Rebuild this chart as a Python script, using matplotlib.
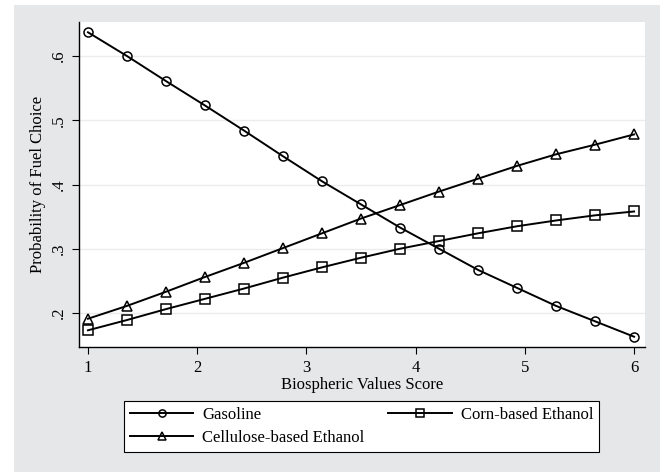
import numpy as np
import matplotlib
matplotlib.use("Agg")
import matplotlib.pyplot as plt
from matplotlib.patches import Rectangle

# --- data ---
score = np.linspace(1, 6, 15)
gasoline = [0.637, 0.600, 0.561, 0.523, 0.484, 0.444, 0.405, 0.369, 0.333,
            0.300, 0.267, 0.239, 0.211, 0.187, 0.163]
corn = [0.173, 0.189, 0.206, 0.222, 0.238, 0.255, 0.271, 0.286, 0.300,
        0.312, 0.324, 0.335, 0.344, 0.352, 0.358]
cellulose = [0.191, 0.211, 0.233, 0.256, 0.278, 0.301, 0.324, 0.347, 0.368,
             0.389, 0.409, 0.429, 0.447, 0.462, 0.478]
x_ticks = [1, 2, 3, 4, 5, 6]
y_ticks = [0.2, 0.3, 0.4, 0.5, 0.6]
y_labels = ['.2', '.3', '.4', '.5', '.6']

plt.rcParams['font.family'] = ['Liberation Serif', 'DejaVu Serif']
plt.rcParams['font.size'] = 12

fig = plt.figure(figsize=(6.62, 4.73), dpi=100)
fig.patch.set_facecolor('white')
# stata-like gray graph region
fig.patches.append(Rectangle((14/662, 1/473), 646/662, 467/473,
                             transform=fig.transFigure, facecolor='#e6e7e9',
                             edgecolor='none', zorder=-10))

ax = fig.add_axes([79/662, 126/473, 566/662, 325/473])
ax.set_facecolor('white')

style = dict(color='black', lw=1.4, markerfacecolor='none',
             markeredgecolor='black', markeredgewidth=1.1, markersize=6.5)
l1, = ax.plot(score, gasoline, marker='o', label='Gasoline', **style)
l2, = ax.plot(score, corn, marker='s', label='Corn-based Ethanol', **style)
l3, = ax.plot(score, cellulose, marker='^', label='Cellulose-based Ethanol', **style)

ax.set_xlim(0.918, 6.10)
ax.set_ylim(0.147, 0.653)
ax.set_xticks(x_ticks)
ax.set_yticks(y_ticks)
ax.set_yticklabels(y_labels, rotation=90, va='center')
ax.tick_params(direction='out', length=5, width=0.8, colors='black',
               labelsize=12, pad=4)
ax.yaxis.grid(True, color='#ececec', lw=1)
ax.set_axisbelow(True)
for s in ['top', 'right']:
    ax.spines[s].set_visible(False)
for s in ['left', 'bottom']:
    ax.spines[s].set_linewidth(1.0)

ax.set_xlabel('Biospheric Values Score', fontsize=12, labelpad=1)
ax.set_ylabel('Probability of Fuel Choice', fontsize=12, labelpad=3)

leg = fig.legend([l1, l3, l2],
                 ['Gasoline', 'Cellulose-based Ethanol', 'Corn-based Ethanol'],
                 ncol=2, loc='center', mode='expand', borderaxespad=0,
                 bbox_to_anchor=(124/662, 20/473, 475/662, 53/473),
                 bbox_transform=fig.transFigure, frameon=True, fancybox=False,
                 edgecolor='black', facecolor='white', framealpha=1,
                 handlelength=3.8, handletextpad=0.55,
                 borderpad=0.35, labelspacing=0.42, fontsize=12,
                 markerscale=0.8)
leg.get_frame().set_linewidth(0.8)

fig.savefig('out.png', dpi=100)
